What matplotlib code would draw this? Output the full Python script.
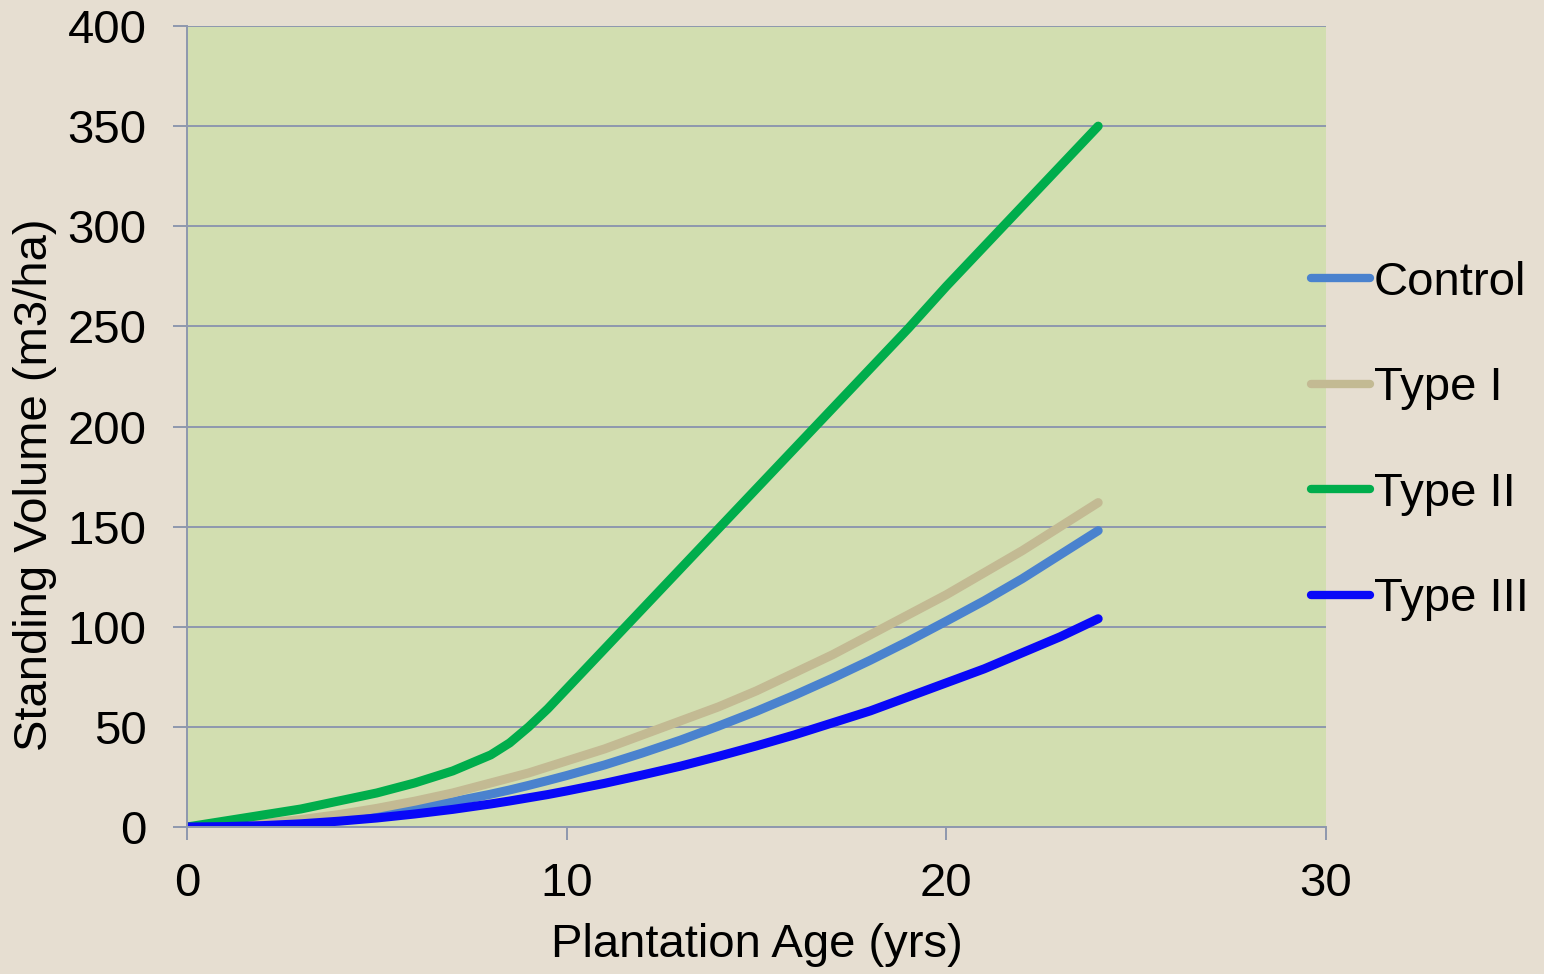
import matplotlib
matplotlib.use("Agg")
import matplotlib.pyplot as plt

plt.rcParams['font.family'] = ['Liberation Sans', 'DejaVu Sans']

# plantation age (yrs) and standing volume (m3/ha) per treatment
age = [0, 1, 2, 3, 4, 5, 6, 7, 8, 8.5, 9, 9.5, 10, 11, 12, 13, 14, 15, 16, 17, 18, 19, 20, 21, 22, 23, 24]
control = [0, 0.3, 1, 2.3, 4, 6.4, 9.3, 12.6, 16.4, 18.5, 20.8, 23.2, 25.7, 31, 37, 43.4, 50.4, 57.8,
           65.8, 74.3, 83.3, 92.8, 102.8, 113, 124, 136, 148]
type_1 = [0, 0.5, 1.8, 3.7, 6.2, 9.3, 12.9, 17, 22, 24.5, 27, 30, 33, 39, 46, 53, 60, 68,
          77, 86, 96, 106, 116, 127, 138, 150, 162]
type_2 = [0, 3, 6, 9, 13, 17, 22, 28, 36, 42, 50, 59, 69, 89, 109, 129, 149, 169,
          189, 209, 229, 249, 270, 290, 310, 330, 350]
type_3 = [0, 0.2, 0.7, 1.6, 2.9, 4.5, 6.5, 8.8, 11.5, 13, 14.6, 16.2, 18, 21.8, 26, 30.4, 35.3, 40.5,
          46, 52, 58, 65, 72, 79, 87, 95, 104]

series = [
    ("Control", control, "#4A82CE"),
    ("Type I", type_1, "#C3BA93"),
    ("Type II", type_2, "#00AD4C"),
    ("Type III", type_3, "#0808F8"),
]

grid_col = "#8E98AE"

fig = plt.figure(figsize=(15.44, 9.74), dpi=100, facecolor="#E6DED1")
ax = fig.add_axes([187 / 1544, 1 - 827 / 974, 1139 / 1544, 801 / 974])
ax.set_facecolor("#D2DEB0")

for name, vals, col in series:
    ax.plot(age, vals, color=col, lw=6.5, solid_capstyle="round", solid_joinstyle="round", label=name)

ax.set_xlim(0, 30)
ax.set_ylim(0, 400)
ax.set_xticks([0, 10, 20, 30])
ax.set_yticks(range(0, 401, 50))
ax.yaxis.grid(True, color=grid_col, lw=1.4)
ax.set_axisbelow(True)

for s in ["top", "right"]:
    ax.spines[s].set_visible(False)
for s in ["left", "bottom"]:
    ax.spines[s].set_color(grid_col)
    ax.spines[s].set_linewidth(1.4)

ax.tick_params(axis="y", direction="out", length=10, width=1.4, color=grid_col, pad=19, labelsize=34)
ax.tick_params(axis="x", direction="out", length=9, width=1.4, color=grid_col, pad=16, labelsize=34)

ax.set_xlabel("Plantation Age (yrs)", fontsize=34)
ax.xaxis.set_label_coords(0.5, (827 - 945) / 801)
ax.xaxis.label.set_va("center")
ax.set_ylabel("Standing Volume (m3/ha)", fontsize=34)
ax.yaxis.set_label_coords((35 - 187) / 1139, (827 - 485) / 801)
ax.yaxis.label.set_va("center")

leg = ax.legend(loc="center left", bbox_to_anchor=(1311 / 1544, 1 - 441 / 974),
                bbox_transform=fig.transFigure, frameon=False, fontsize=34,
                handlelength=1.25, handletextpad=0.08, labelspacing=1.3,
                borderpad=0, borderaxespad=0)
for h in leg.get_lines():
    h.set_linewidth(6)

fig.savefig("out.png", dpi=100, facecolor=fig.get_facecolor())
